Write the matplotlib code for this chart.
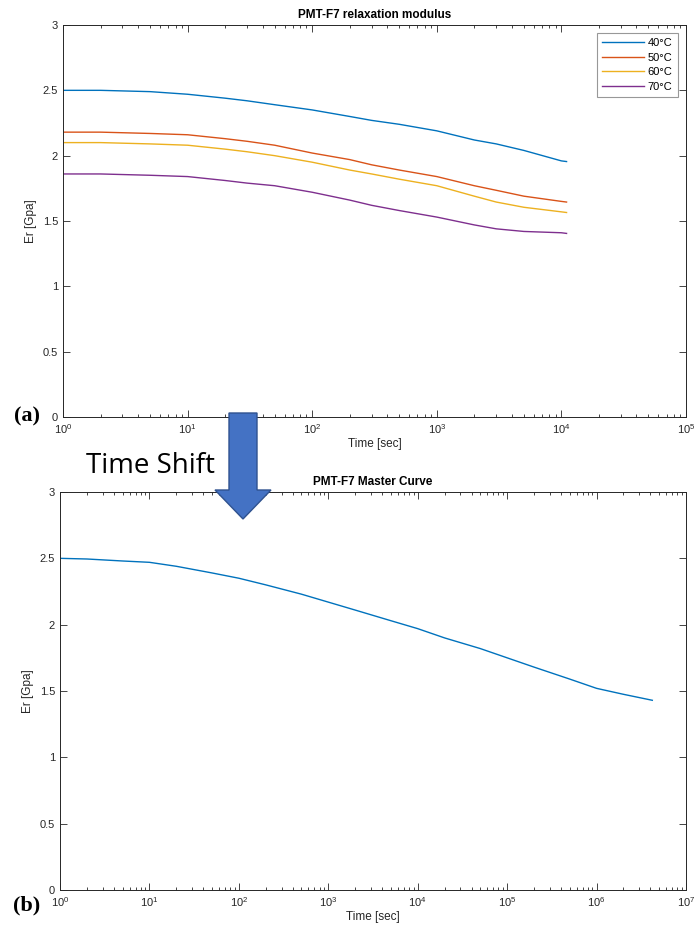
import matplotlib
matplotlib.use("Agg")
import matplotlib.pyplot as plt
from matplotlib.patches import Polygon

plt.rcParams['font.family'] = ['Liberation Sans', 'DejaVu Sans']

# relaxation modulus at each temperature
t_temp = [1, 2, 5, 10, 20, 30, 50, 100, 200, 300, 500, 1000, 2000, 3000, 5000, 10000, 11000]
E40 = [2.50, 2.50, 2.49, 2.47, 2.44, 2.42, 2.39, 2.35, 2.30, 2.27, 2.24, 2.19, 2.12, 2.09, 2.04, 1.96, 1.955]
E50 = [2.18, 2.18, 2.17, 2.16, 2.13, 2.11, 2.08, 2.02, 1.97, 1.93, 1.89, 1.84, 1.77, 1.735, 1.69, 1.65, 1.645]
E60 = [2.10, 2.10, 2.09, 2.08, 2.05, 2.03, 2.00, 1.95, 1.89, 1.86, 1.82, 1.77, 1.69, 1.645, 1.605, 1.57, 1.565]
E70 = [1.86, 1.86, 1.85, 1.84, 1.81, 1.79, 1.77, 1.72, 1.66, 1.62, 1.58, 1.53, 1.47, 1.44, 1.42, 1.41, 1.405]
labels = ['40\u00b0C', '50\u00b0C', '60\u00b0C', '70\u00b0C']
colors = ['#0072BD', '#D95319', '#EDB120', '#7E2F8E']

# master curve after time shift
t_master = [1, 2, 5, 10, 20, 50, 100, 200, 500, 1e3, 2e3, 5e3, 1e4, 2e4, 5e4,
            1e5, 2e5, 5e5, 1e6, 2e6, 4.2e6]
E_master = [2.50, 2.495, 2.48, 2.47, 2.44, 2.39, 2.35, 2.30, 2.23, 2.17, 2.11, 2.03, 1.97,
            1.90, 1.82, 1.75, 1.68, 1.59, 1.52, 1.475, 1.43]

W, H = 694, 932
fig = plt.figure(figsize=(W / 100, H / 100), dpi=100)

def px(x0, y0, x1, y1):
    # pixel box -> figure fraction [left, bottom, width, height]
    return [x0 / W, 1 - y1 / H, (x1 - x0) / W, (y1 - y0) / H]

def style(ax):
    ax.set_xscale('log')
    ax.set_ylim(0, 3)
    ax.set_yticks([0, 0.5, 1, 1.5, 2, 2.5, 3])
    ax.set_yticklabels(['0', '0.5', '1', '1.5', '2', '2.5', '3'])
    ax.tick_params(which='both', direction='in', top=True, right=True,
                   labelsize=8, colors='#262626', width=0.6)
    ax.tick_params(which='major', length=5)
    ax.tick_params(which='minor', length=2.5)
    for s in ax.spines.values():
        s.set_linewidth(0.7)
        s.set_color('#262626')
    ax.set_ylabel('Er [Gpa]', fontsize=8.5, color='#262626')
    ax.set_xlabel('Time [sec]', fontsize=8.5, color='#262626', labelpad=2)

ax1 = fig.add_axes(px(63, 25, 686, 417))
for E, lab, c in zip([E40, E50, E60, E70], labels, colors):
    ax1.plot(t_temp, E, color=c, lw=1.0, label=lab)
ax1.set_xlim(1, 1e5)
style(ax1)
ax1.set_title('PMT-F7 relaxation modulus', fontsize=8.5, fontweight='bold', pad=5)
leg = ax1.legend(loc='upper right', fontsize=8, handlelength=3.8, fancybox=False,
                 borderaxespad=0.7, labelspacing=0.4, handletextpad=0.3,
                 borderpad=0.5)
leg.get_frame().set_edgecolor('#7f7f7f')
leg.get_frame().set_linewidth(0.8)

ax2 = fig.add_axes(px(60, 492, 686, 890))
ax2.plot(t_master, E_master, color=colors[0], lw=1.0)
ax2.set_xlim(1, 1e7)
style(ax2)
ax2.set_title('PMT-F7 Master Curve', fontsize=8.5, fontweight='bold', pad=5)

# panel letters
fig.text(14 / W, 1 - 416 / H, '(a)', fontsize=16, fontweight='bold',
         family='Liberation Serif', va='center')
fig.text(13 / W, 1 - 905 / H, '(b)', fontsize=16, fontweight='bold',
         family='Liberation Serif', va='center')

# "Time Shift" arrow
fig.text(150 / W, 1 - 466 / H, 'Time Shift', fontsize=20, family='Open Sans',
         ha='center', va='center')
arrow = [(229, 413), (257, 413), (257, 490), (271, 490), (243, 519),
         (215, 490), (229, 490)]
arrow = [(x / W, 1 - y / H) for x, y in arrow]
fig.patches.append(Polygon(arrow, closed=True, transform=fig.transFigure,
                           facecolor='#4472C4', edgecolor='#2F528F', lw=1.0,
                           zorder=10))

fig.savefig('out.png', dpi=100)
